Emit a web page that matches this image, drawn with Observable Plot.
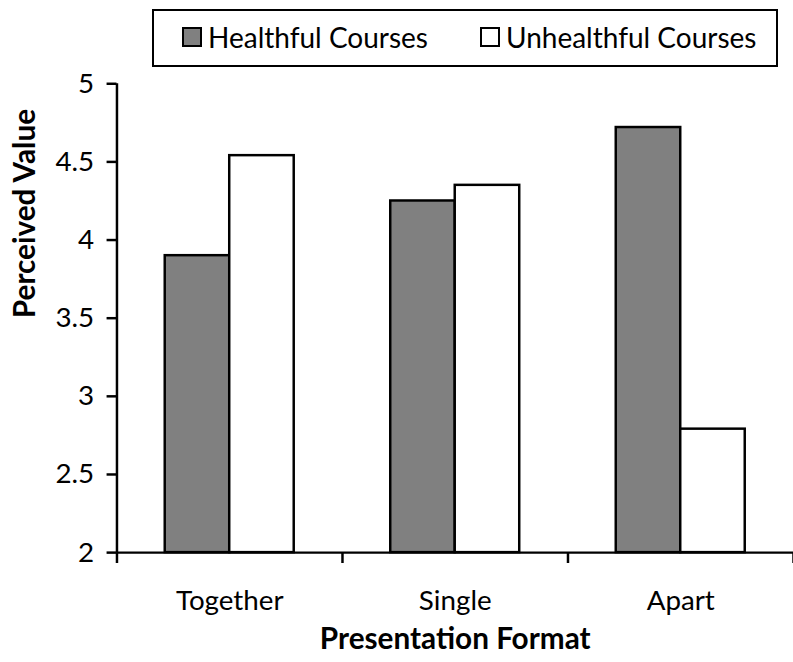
<!DOCTYPE html>
<html>
<head>
<meta charset="utf-8">
<script src="https://cdn.jsdelivr.net/npm/d3@7"></script>
<script src="https://cdn.jsdelivr.net/npm/@observablehq/plot@0.6"></script>
<style>
  html, body { margin: 0; padding: 0; background: #fff; overflow: hidden; }
  #wrap { position: relative; width: 793px; height: 662px; overflow: hidden; font-family: Lato, "Open Sans", sans-serif; }
  #chart { position: absolute; left: 0; top: 0; }
  .legend { position: absolute; left: 152px; top: 9px; width: 622px; height: 54px; border: 2.5px solid #000; background: #fff; }
  .item { position: absolute; top: -1px; height: 54px; display: flex; align-items: center; font-size: 28px; color: #000; }
  .swatch { width: 16px; height: 16px; border: 2.5px solid #000; margin-right: 6px; }
</style>
</head>
<body>
<div id="wrap">
  <div id="chart"></div>
  <div class="legend" id="legend"></div>
</div>
<script>
// Presentation formats (x categories)
const categories = ["Together", "Single", "Apart"];
// Series names and fills
const seriesNames = ["Healthful Courses", "Unhealthful Courses"];
const seriesFills = ["#808080", "#ffffff"];
// Mean perceived value per format
const healthful = [3.9, 4.25, 4.72];
const unhealthful = [4.54, 4.35, 2.79];
// Y axis ticks
const yTicks = [2, 2.5, 3, 3.5, 4, 4.5, 5];

// Each category occupies one unit on x; bars sit side by side at its centre
const barWidth = 0.286;
const rows = [];
categories.forEach((c, i) => {
  rows.push({format: c, series: seriesNames[0], x1: i + 0.5 - barWidth, x2: i + 0.5, value: healthful[i]});
  rows.push({format: c, series: seriesNames[1], x1: i + 0.5, x2: i + 0.5 + barWidth, value: unhealthful[i]});
});

const font = "Lato, 'Open Sans', sans-serif";

const chart = Plot.plot({
  width: 800,
  height: 662,
  marginTop: 84,
  marginBottom: 105,
  marginLeft: 117.5,
  marginRight: 0,
  style: {fontFamily: font, fontSize: "28px", color: "#000", background: "#fff"},
  x: {domain: [0, categories.length], axis: null},
  y: {domain: [2, 5], axis: null},
  color: {domain: seriesNames, range: seriesFills},
  marks: [
    Plot.rectY(rows, {x1: "x1", x2: "x2", y1: 2, y2: "value", fill: "series", stroke: "#000", strokeWidth: 2.5}),
    // axis lines
    Plot.ruleX([0], {y1: 2, y2: 5, stroke: "#000", strokeWidth: 2.5}),
    Plot.ruleY([2], {x1: 0, x2: categories.length, stroke: "#000", strokeWidth: 2.5}),
    Plot.axisY({ticks: yTicks, tickSize: 10, tickPadding: 13, strokeWidth: 2.5, label: null, fontSize: 28, tickFormat: d => String(d)}),
    // boundary ticks between categories
    Plot.axisX({ticks: d3.range(categories.length + 1), tickSize: 11, strokeWidth: 2.5, tickFormat: () => "", label: null}),
    // category labels
    Plot.axisX({ticks: categories.map((c, i) => i + 0.5), tickSize: 0, tickPadding: 38, tickFormat: v => categories[Math.floor(v)], label: null, fontSize: 28}),
    Plot.text(["Perceived Value"], {frameAnchor: "left", dx: -92, rotate: -90, fontWeight: "bold", fontSize: 30, fill: "#000"}),
    Plot.text(["Presentation Format"], {frameAnchor: "bottom", dy: 97, fontWeight: "bold", fontSize: 30, fill: "#000"})
  ]
});
document.getElementById("chart").appendChild(chart);

// Legend
const legend = document.getElementById("legend");
const lefts = [28, 326];
seriesNames.forEach((name, i) => {
  const item = document.createElement("div");
  item.className = "item";
  item.style.left = lefts[i] + "px";
  const sw = document.createElement("div");
  sw.className = "swatch";
  sw.style.background = seriesFills[i];
  item.appendChild(sw);
  item.appendChild(document.createTextNode(name));
  legend.appendChild(item);
});
</script>
</body>
</html>
